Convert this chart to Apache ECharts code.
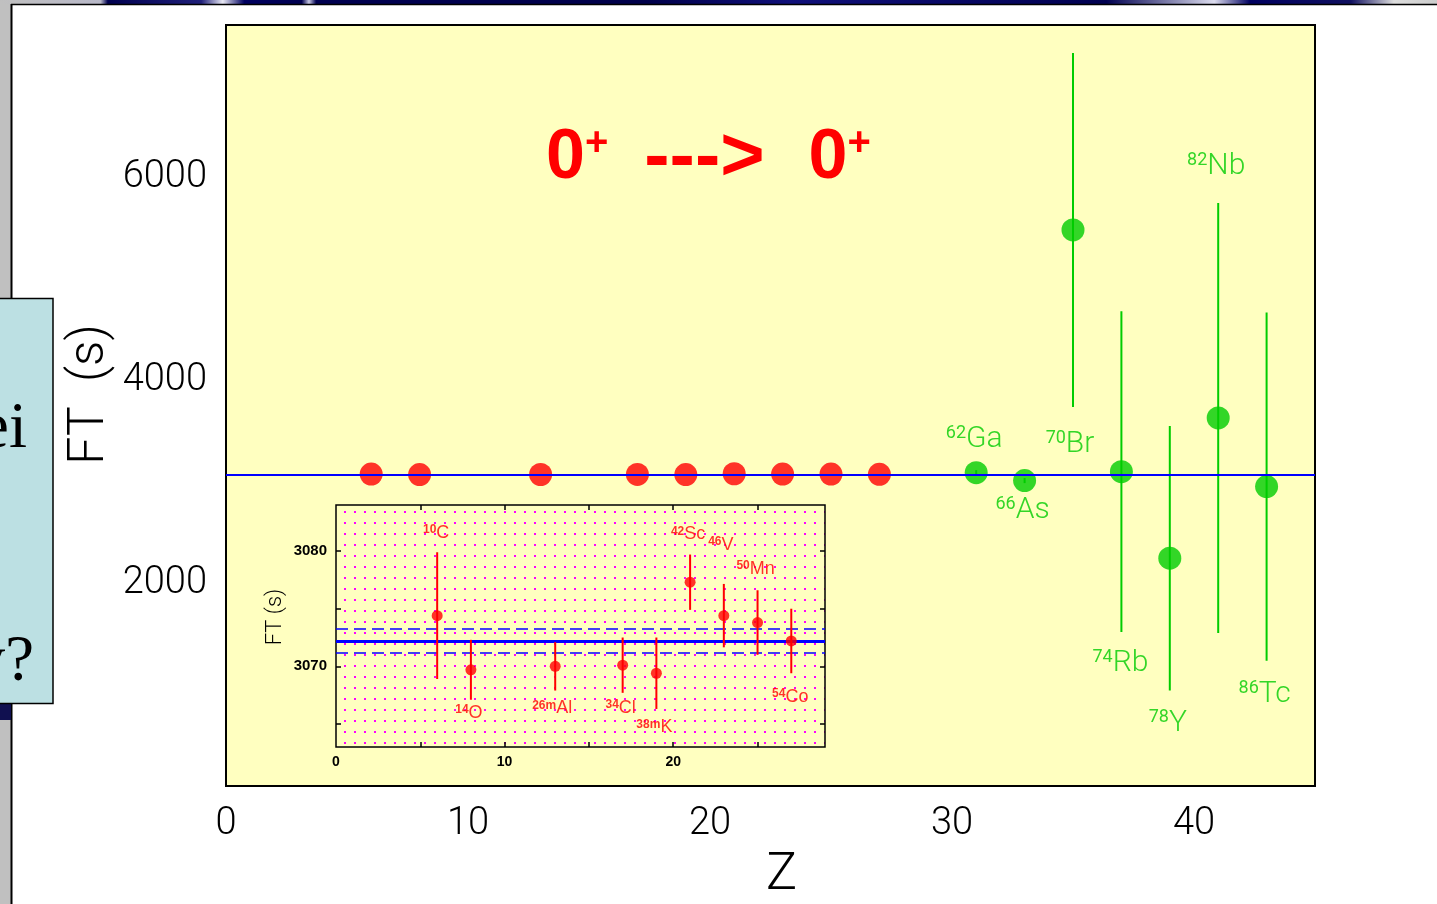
<!DOCTYPE html>
<html>
<head>
<meta charset="utf-8">
<script src="https://cdn.jsdelivr.net/npm/echarts@6/dist/echarts.min.js"></script>
<style>
  html, body { margin: 0; padding: 0; background: #ffffff; }
  #chart { width: 1437px; height: 904px; }
</style>
</head>
<body>
<div id="chart"></div>
<script>
// Superallowed 0+ -> 0+ beta decays: corrected FT values against proton number Z.

// Well-measured cases (red), shown in the main panel and the zoomed inset
const redMass = ['10', '14', '26m', '34', '38m', '42', '46', '50', '54'];
const redElem = ['C', 'O', 'Al', 'Cl', 'K', 'Sc', 'V', 'Mn', 'Co'];
const redZ = [6, 8, 13, 17, 19, 21, 23, 25, 27];
const redFt = [3074.4, 3069.7, 3070.0, 3070.1, 3069.4, 3077.3, 3074.4, 3073.8, 3072.2];
const redErr = [5.5, 2.6, 2.1, 2.4, 3.1, 2.4, 2.75, 2.8, 2.8];

// Heavier cases (green) with large uncertainties
const greenMass = ['62', '66', '70', '74', '78', '82', '86'];
const greenElem = ['Ga', 'As', 'Br', 'Rb', 'Y', 'Nb', 'Tc'];
const greenZ = [31, 33, 35, 37, 39, 41, 43];
const greenFt = [3088, 3010, 5480, 3098, 2245, 3627, 2951];
const greenErr = [25, 25, 1745, 1580, 1304, 2118, 1716];

// Weighted average of the well-measured FT values and its uncertainty
const meanFt = 3072.2;
const meanErr = 1.05;

// Axis ticks and labels
const mainXLabels = [0, 10, 20, 30, 40];
const mainXMajor = [10, 20, 30, 40];
const mainXMinor = [5, 15, 25, 35];
const mainYLabels = [2000, 4000, 6000];
const mainYMinor = [1000, 3000, 5000, 7000];
const insetXLabels = [0, 10, 20];
const insetXTicks = [5, 10, 15, 20, 25];
const insetYLabels = [3070, 3080];
const insetYTicks = [3065, 3070, 3075, 3080];

// Label placement (pixel offsets from each marker centre)
const greenLabelOffset = [[-2, -33], [-2, 30], [-3, 215], [-1, 192], [-2, 165], [-2, -251], [-2, 208]];
const redLabelOffset = [[-1, -83], [-2, 43], [-3, 42], [-2, 43], [-2, 54], [-2, -48], [-3, -71], [-2, -54], [-1, 56]];

const YELLOW = '#ffffc0';
const RED = '#ff0000';
const GREEN = '#00cc00';
const BLUE = '#0000ff';
const MAGENTA = '#ff00ff';

function dotPattern() {
  const c = document.createElement('canvas');
  c.width = 10; c.height = 11;
  const g = c.getContext('2d');
  g.fillStyle = YELLOW;
  g.fillRect(0, 0, c.width, c.height);
  g.fillStyle = MAGENTA;
  g.fillRect(4, 5, 2, 2);
  return { image: c, repeat: 'repeat' };
}

const plain = v => String(v);
const tickLine = { color: '#000', width: 1.5 };
const thinFont = { fontFamily: 'Roboto', fontWeight: 300, color: '#000' };

function tickAxis(grid, pos, min, max, ticks, len, extra) {
  return Object.assign({
    type: 'value', gridIndex: grid, position: pos, min: min, max: max,
    axisLine: { show: false, onZero: false },
    splitLine: { show: false },
    axisTick: { show: true, inside: true, length: len, customValues: ticks, lineStyle: tickLine },
    axisLabel: { show: false }
  }, extra || {});
}

function errorBars(xi, yi, zs, vals, errs, color, width) {
  return {
    type: 'custom', xAxisIndex: xi, yAxisIndex: yi, silent: true, z: 3,
    data: zs.map((z, i) => [z, vals[i] - errs[i], vals[i] + errs[i]]),
    encode: { x: 0, y: [1, 2] },
    renderItem: function (params, api) {
      const lo = api.coord([api.value(0), api.value(1)]);
      const hi = api.coord([api.value(0), api.value(2)]);
      return {
        type: 'line',
        shape: { x1: lo[0], y1: lo[1], x2: hi[0], y2: hi[1] },
        style: { stroke: color, lineWidth: width }
      };
    }
  };
}

function nuclideLabel(mass, elem, color, supSize, supWeight, mainSize, family, weight) {
  return {
    show: true, position: 'inside',
    formatter: p => '{m|' + mass[p.dataIndex] + '}{e|' + elem[p.dataIndex] + '}',
    rich: {
      m: { fontSize: supSize, fontFamily: family, fontWeight: supWeight, color: color, verticalAlign: 'top', lineHeight: mainSize },
      e: { fontSize: mainSize, fontFamily: family, fontWeight: weight, color: color, lineHeight: mainSize }
    }
  };
}

const chart = echarts.init(document.getElementById('chart'), null, { renderer: 'canvas' });

const option = {
  animation: false,
  backgroundColor: '#ffffff',
  grid: [
    { left: 226, top: 25, width: 1089, height: 761, outerBoundsMode: 'none', containLabel: false, show: true, backgroundColor: YELLOW, borderColor: '#000', borderWidth: 2, z: 1 },
    { left: 336, top: 505, width: 489, height: 242, outerBoundsMode: 'none', containLabel: false, show: true, backgroundColor: dotPattern(), borderColor: '#000', borderWidth: 1.5, z: 5 }
  ],
  xAxis: [
    tickAxis(0, 'bottom', 0, 45, mainXMajor, 15, {
      axisLabel: Object.assign({ show: true, customValues: mainXLabels, formatter: plain, fontSize: 38, margin: 19 }, thinFont),
      name: 'Z', nameLocation: 'middle', nameGap: 64, nameMoveOverlap: false,
      nameTextStyle: Object.assign({ fontSize: 52, padding: [0, 0, 0, 22] }, thinFont)
    }),
    tickAxis(0, 'bottom', 0, 45, mainXMinor, 8),
    tickAxis(0, 'top', 0, 45, mainXMajor, 13),
    tickAxis(0, 'top', 0, 45, mainXMinor, 8),
    tickAxis(1, 'bottom', 0, 29, insetXTicks, 5, {
      z: 6,
      axisLabel: { show: true, customValues: insetXLabels, formatter: plain, fontSize: 14, fontWeight: 'bold', fontFamily: 'Liberation Sans', color: '#000', margin: 8 }
    }),
    tickAxis(1, 'top', 0, 29, insetXTicks, 5, { z: 6 })
  ],
  yAxis: [
    tickAxis(0, 'left', 0, 7500, mainYLabels, 15, {
      axisLabel: Object.assign({ show: true, customValues: mainYLabels, formatter: plain, fontSize: 38, margin: 19 }, thinFont),
      name: 'FT  (s)', nameLocation: 'middle', nameGap: 111, nameRotate: 90, nameMoveOverlap: false,
      nameTextStyle: Object.assign({ fontSize: 50, padding: [0, 0, 0, 22] }, thinFont)
    }),
    tickAxis(0, 'left', 0, 7500, mainYMinor, 8),
    tickAxis(0, 'right', 0, 7500, mainYLabels, 13),
    tickAxis(0, 'right', 0, 7500, mainYMinor, 8),
    tickAxis(1, 'left', 3063, 3084, insetYTicks, 5, {
      z: 6,
      axisLabel: { show: true, customValues: insetYLabels, formatter: plain, fontSize: 15, fontWeight: 'bold', fontFamily: 'Liberation Sans', color: '#000', margin: 9 },
      name: 'FT (s)', nameLocation: 'middle', nameGap: 50, nameRotate: 90,
      nameTextStyle: Object.assign({ fontSize: 22, padding: [0, 0, 0, 18] }, thinFont)
    }),
    tickAxis(1, 'right', 3063, 3084, insetYTicks, 5, { z: 6 })
  ],
  series: [
    // main panel: average line and red points
    {
      type: 'scatter', xAxisIndex: 0, yAxisIndex: 0, z: 4, silent: true,
      symbolSize: 23, itemStyle: { color: RED },
      data: redZ.map((z, i) => [z, redFt[i]]),
      markLine: {
        silent: true, symbol: 'none', label: { show: false },
        lineStyle: { color: BLUE, width: 2, type: 'solid' },
        data: [{ yAxis: meanFt }]
      }
    },
    errorBars(0, 0, greenZ, greenFt, greenErr, GREEN, 2),
    {
      type: 'scatter', xAxisIndex: 0, yAxisIndex: 0, z: 4, silent: true,
      symbolSize: 23, itemStyle: { color: GREEN },
      data: greenZ.map((z, i) => ({ value: [z, greenFt[i]], label: { offset: greenLabelOffset[i] } })),
      label: nuclideLabel(greenMass, greenElem, GREEN, 18, 400, 30, 'Roboto', 300)
    },
    // inset: zoom on the well-measured cases
    Object.assign(errorBars(4, 4, redZ, redFt, redErr, RED, 2), { z: 7 }),
    {
      type: 'scatter', xAxisIndex: 4, yAxisIndex: 4, z: 8, silent: true,
      symbolSize: 11, itemStyle: { color: RED },
      data: redZ.map((z, i) => ({ value: [z, redFt[i]], label: { offset: redLabelOffset[i] } })),
      label: nuclideLabel(redMass, redElem, RED, 12, 'bold', 18, 'Liberation Sans', 400),
      markLine: {
        silent: true, symbol: 'none', label: { show: false },
        lineStyle: { color: BLUE },
        data: [
          { yAxis: meanFt, lineStyle: { width: 3, type: 'solid' } },
          { yAxis: meanFt + meanErr, lineStyle: { width: 1.5, type: [12, 6] } },
          { yAxis: meanFt - meanErr, lineStyle: { width: 1.5, type: [12, 6] } }
        ]
      }
    }
  ],
  graphic: [
    // slide window frame
    { type: 'rect', z: 0, shape: { x: 0, y: 0, width: 11, height: 904 }, style: { fill: '#c0c0c0' } },
    {
      type: 'rect', z: 0, shape: { x: 0, y: 0, width: 1437, height: 4 },
      style: {
        fill: new echarts.graphic.LinearGradient(0, 0, 1, 0, [
          { offset: 0, color: '#c0c0c0' }, { offset: 0.07, color: '#b8b8c8' },
          { offset: 0.075, color: '#000050' }, { offset: 0.14, color: '#20207a' },
          { offset: 0.155, color: '#e8e8f4' }, { offset: 0.17, color: '#000060' },
          { offset: 0.21, color: '#000050' }, { offset: 0.215, color: '#c8c8e4' },
          { offset: 0.22, color: '#000050' }, { offset: 0.45, color: '#00004a' },
          { offset: 0.55, color: '#10107a' }, { offset: 0.77, color: '#000050' },
          { offset: 0.845, color: '#dcdcee' }, { offset: 0.87, color: '#000060' },
          { offset: 0.94, color: '#101060' }, { offset: 0.97, color: '#dddddd' },
          { offset: 1, color: '#cccccc' }
        ])
      }
    },
    { type: 'line', z: 1, shape: { x1: 11.5, y1: 4, x2: 11.5, y2: 904 }, style: { stroke: '#000', lineWidth: 2 } },
    { type: 'line', z: 1, shape: { x1: 11, y1: 4.5, x2: 1437, y2: 4.5 }, style: { stroke: '#000', lineWidth: 1.5 } },
    // side text box
    { type: 'rect', z: 2, shape: { x: 0, y: 703, width: 11, height: 17 }, style: { fill: '#101050' } },
    { type: 'rect', z: 3, shape: { x: -2, y: 298.5, width: 55, height: 405 }, style: { fill: '#bce0e3', stroke: '#000', lineWidth: 1.5 } },
    { type: 'text', z: 4, x: 27, y: 462, style: { text: 'ei', font: '65px "Liberation Serif"', fill: '#000', align: 'right', verticalAlign: 'bottom' } },
    { type: 'text', z: 4, x: 34, y: 695, style: { text: 'y?', font: '65px "Liberation Serif"', fill: '#000', align: 'right', verticalAlign: 'bottom' } },
    // transition label
    {
      type: 'text', z: 10, x: 546, y: 124,
      style: {
        text: '{z|0}{p|+}{g|}{d|--->}{h|}{z|0}{p|+}',
        fill: RED,
        rich: {
          z: { fontSize: 70, fontWeight: 'bold', fontFamily: 'Liberation Sans', fill: RED, lineHeight: 70 },
          p: { fontSize: 40, fontWeight: 'bold', fontFamily: 'Liberation Sans', fill: RED, verticalAlign: 'top', lineHeight: 70 },
          g: { width: 36 },
          d: { fontSize: 76, fontWeight: 'bold', fontFamily: 'Liberation Sans', fill: RED, lineHeight: 70 },
          h: { width: 44 }
        }
      }
    }
  ]
};

chart.setOption(option);
</script>
</body>
</html>
